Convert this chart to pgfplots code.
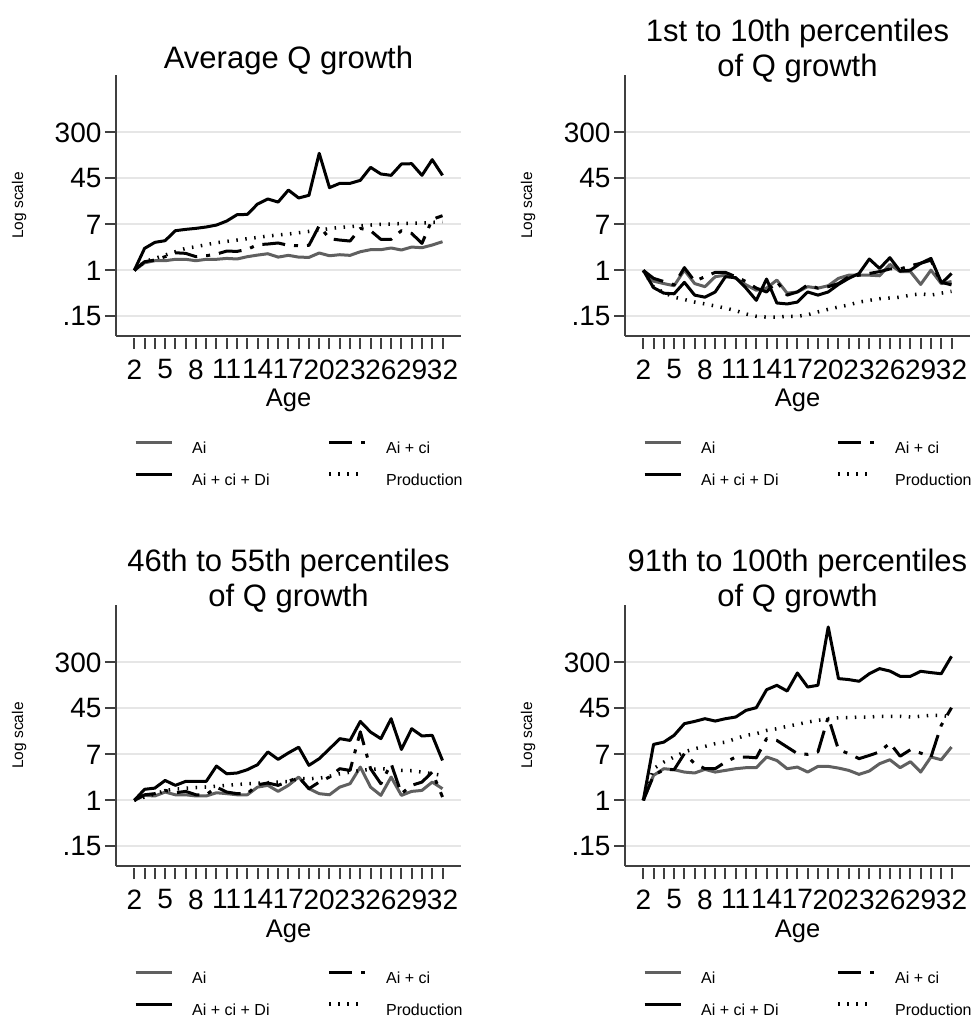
\documentclass[border=0pt]{standalone}
\usepackage{pgfplots}
\pgfplotsset{compat=1.18}
\usepackage{pgfplotstable}
\usepackage{fontspec}
\setmainfont{Liberation Sans}
\definecolor{lgray}{RGB}{96,96,96}
\definecolor{gridc}{RGB}{230,230,230}
\definecolor{axc}{RGB}{64,64,64}

\pgfplotstableread{
x ai aic aicd prod
2 1 1 1 1
3 1.37 1.43 2.48 1.43
4 1.49 1.53 3.18 1.64
5 1.49 1.76 3.41 1.88
6 1.58 2.07 5.15 2.16
7 1.58 2.02 5.44 2.48
8 1.49 1.76 5.67 2.66
9 1.58 1.83 6.0 2.89
10 1.58 1.96 6.5 3.14
11 1.64 2.22 7.68 3.31
12 1.60 2.19 9.97 3.5
13 1.76 2.38 10.1 3.7
14 1.88 2.89 15.5 3.9
15 1.99 2.97 19.1 4.14
16 1.73 3.10 16.8 4.31
17 1.86 2.81 27.6 4.49
18 1.73 2.77 19.9 4.74
19 1.71 2.81 22.2 5.0
20 2.05 6.33 126 5.3
21 1.83 3.7 30.5 5.6
22 1.91 3.5 36.4 5.9
23 1.86 3.36 36.4 6.08
24 2.16 5.67 41.2 6.33
25 2.35 5.15 70.5 6.5
26 2.35 3.6 53.6 6.7
27 2.52 3.6 50.7 6.8
28 2.32 5.15 81 6.9
29 2.62 4.6 82 6.97
30 2.55 3.05 50.7 7.07
31 2.85 8.23 96.8 7.26
32 3.27 9.57 50.7 7.46
}\tA

\pgfplotstableread{
x ai aic aicd prod
2 1 1 1 1
3 0.64 0.72 0.49 0.5
4 0.58 0.63 0.39 0.4
5 0.53 0.55 0.38 0.33
6 1.01 1.12 0.61 0.3
7 0.58 0.64 0.36 0.27
8 0.51 0.77 0.33 0.25
9 0.77 0.92 0.41 0.23
10 0.82 0.92 0.77 0.21
11 0.72 0.77 0.74 0.19
12 0.55 0.63 0.48 0.165
13 0.44 0.48 0.29 0.15
14 0.48 0.41 0.70 0.145
15 0.67 0.63 0.26 0.145
16 0.39 0.36 0.25 0.15
17 0.41 0.41 0.27 0.15
18 0.51 0.55 0.41 0.16
19 0.48 0.48 0.36 0.18
20 0.53 0.51 0.41 0.2
21 0.72 0.58 0.56 0.22
22 0.82 0.77 0.72 0.24
23 0.82 0.82 0.88 0.27
24 0.82 0.88 1.6 0.29
25 0.8 0.95 1.08 0.31
26 1.28 1.06 1.69 0.32
27 0.95 1.06 0.97 0.33
28 0.95 1.21 1.01 0.36
29 0.56 1.34 1.34 0.38
30 1.01 1.53 1.64 0.36
31 0.58 0.58 0.61 0.39
32 0.63 0.88 0.55 0.42
}\tB

\pgfplotstableread{
x ai aic aicd prod
2 1 1 1 1
3 1.23 1.26 1.58 1.15
4 1.2 1.32 1.66 1.3
5 1.41 1.51 2.28 1.5
6 1.26 1.37 1.86 1.6
7 1.26 1.45 2.19 1.65
8 1.2 1.26 2.19 1.7
9 1.2 1.26 2.19 1.74
10 1.37 1.73 4.13 1.8
11 1.32 1.41 3.0 1.86
12 1.26 1.32 3.1 1.92
13 1.26 1.32 3.55 1.99
14 1.73 1.91 4.37 2.03
15 1.86 2.05 7.4 2.07
16 1.45 1.86 5.44 2.13
17 1.86 2.19 7.1 2.19
18 2.62 2.62 9.0 2.45
19 1.62 1.62 4.25 2.45
20 1.32 2.13 5.6 2.5
21 1.26 2.62 8.4 2.7
22 1.73 3.7 12.8 3.0
23 1.99 3.45 11.9 3.2
24 3.96 17 26.1 3.45
25 1.73 3.7 16.8 3.6
26 1.23 1.99 12.8 3.7
27 2.62 4.55 29.2 3.6
28 1.23 1.32 8.2 3.45
29 1.45 1.86 19.3 3.4
30 1.51 2.13 14.3 3.22
31 2.13 3.22 14.7 3.0
32 1.62 1.15 5.2 2.8
}\tC

\pgfplotstableread{
x ai aic aicd prod
2 1 1 1 1
3 2.81 2.8 10.1 3.7
4 3.7 3.55 11.1 4.87
5 3.55 3.55 14.7 6.0
6 3.22 6.9 23.8 7.4
7 3.1 4.55 26.1 8.45
8 3.6 3.7 29.2 9.3
9 3.22 3.7 26.5 10.4
10 3.45 4.87 29.2 11.1
11 3.7 6.0 31.3 12.8
12 3.86 6.0 41.2 14.7
13 3.86 5.8 46 15.7
14 6.0 12.8 96.7 18.0
15 5.2 11.9 116 19.3
16 3.7 9.06 91.5 21.3
17 3.96 6.9 193 23.1
18 3.22 6.7 108 25.4
19 4.07 7.4 116 27.3
20 4.07 31.3 1290 29.2
21 3.8 8.1 153 30.4
22 3.45 6.9 147 30.4
23 2.93 5.6 137 31.3
24 3.36 6.4 187 31.3
25 4.55 7.4 231 32.2
26 5.36 10.7 209 32.2
27 3.86 6.2 168 32.2
28 4.94 8.1 168 31.3
29 3.22 7.06 207 32.2
30 6.0 6.0 196 33.6
31 5.36 22.2 187 33.6
32 9.06 46 384 31.3
}\tD

\pgfplotsset{
  qstyle/.style={
    scale only axis, width=345pt, height=261pt,
    xmin=0.22, xmax=33.8,
    ymin=0.0665, ymax=3200,
    axis x line*=bottom, axis y line*=left,
    axis line style={draw=axc, line width=2pt, -},
    ytick={0.14957,1,6.6859,44.701,298.87},
    yticklabels={.15,1,7,45,300},
    yminorticks=false,
    ymajorgrids, major grid style={draw=gridc, line width=2pt},
    xtick={2,5,...,32}, minor xtick={2,...,32},
    tick align=outside,
    major tick length=11pt, minor tick length=11pt,
    every tick/.style={draw=axc, line width=2pt},
    every minor tick/.style={draw=axc, line width=2pt},
    xtick style={yshift=-2pt},
    /pgf/number format/assume math mode=true,
    ticklabel style={font=\fontsize{28}{28}\selectfont},
    xticklabel style={yshift=-9pt},
    ylabel={Log scale},
    every axis y label/.style={at={(axis description cs:0,0.5)}, xshift=-97pt, rotate=90, anchor=center, font=\fontsize{15.5}{15.5}\selectfont},
    xlabel={Age},
    every axis x label/.style={at={(axis description cs:0.5,0)}, anchor=base, yshift=-71pt, font=\fontsize{25.5}{25.5}\selectfont},
    title style={at={(axis description cs:0.5,1)}, anchor=base, font=\fontsize{31}{35}\selectfont, align=center},
    legend style={at={(axis description cs:0.0436,-0.393)}, anchor=north west, draw=none, fill=none,
      font=\fontsize{16}{16}\selectfont, legend columns=2,
      nodes={inner sep=0pt, text height=12pt, text depth=0pt},
      row sep=19pt,
      /tikz/every odd column/.append style={column sep=19pt},
      /tikz/every even column/.append style={column sep=58pt}},
    legend cell align=left,
    legend image code/.code={\draw[##1] (0pt,5pt) -- (36pt,5pt);},
  },
}
\tikzset{
  sAi/.style={draw=lgray, line width=3pt, line join=round},
  sAic/.style={draw=black, line width=3pt, line join=round, dash pattern=on 23pt off 9pt on 4pt off 9pt},
  sAicd/.style={draw=black, line width=3pt, line join=round},
  sProd/.style={draw=black, line width=3.5pt, dash pattern=on 1.5pt off 7.5pt},
}

\begin{document}
\begin{tikzpicture}
\path[use as bounding box] (0pt,0pt) rectangle (977pt,1018pt);

\begin{semilogyaxis}[qstyle, at={(116pt,682pt)}, anchor=south west, title={Average Q growth}, title style={yshift=0pt}]
\addplot[sAi] table[x=x,y=ai]{\tA}; \addlegendentry{Ai}
\addplot[sAic] table[x=x,y=aic]{\tA}; \addlegendentry{Ai + ci}
\addplot[sAicd] table[x=x,y=aicd]{\tA}; \addlegendentry{Ai + ci + Di}
\addplot[sProd] table[x=x,y=prod]{\tA}; \addlegendentry{Production}
\end{semilogyaxis}

\begin{semilogyaxis}[qstyle, at={(625pt,682pt)}, anchor=south west, title={1st to 10th percentiles\\of Q growth}, title style={yshift=-7.5pt}]
\addplot[sAi] table[x=x,y=ai]{\tB}; \addlegendentry{Ai}
\addplot[sAic] table[x=x,y=aic]{\tB}; \addlegendentry{Ai + ci}
\addplot[sAicd] table[x=x,y=aicd]{\tB}; \addlegendentry{Ai + ci + Di}
\addplot[sProd] table[x=x,y=prod]{\tB}; \addlegendentry{Production}
\end{semilogyaxis}

\begin{semilogyaxis}[qstyle, at={(116pt,152pt)}, anchor=south west, title={46th to 55th percentiles\\of Q growth}, title style={yshift=-7.5pt}]
\addplot[sAi] table[x=x,y=ai]{\tC}; \addlegendentry{Ai}
\addplot[sAic] table[x=x,y=aic]{\tC}; \addlegendentry{Ai + ci}
\addplot[sAicd] table[x=x,y=aicd]{\tC}; \addlegendentry{Ai + ci + Di}
\addplot[sProd] table[x=x,y=prod]{\tC}; \addlegendentry{Production}
\end{semilogyaxis}

\begin{semilogyaxis}[qstyle, at={(625pt,152pt)}, anchor=south west, title={91th to 100th percentiles\\of Q growth}, title style={yshift=-7.5pt}]
\addplot[sAi] table[x=x,y=ai]{\tD}; \addlegendentry{Ai}
\addplot[sAic] table[x=x,y=aic]{\tD}; \addlegendentry{Ai + ci}
\addplot[sAicd] table[x=x,y=aicd]{\tD}; \addlegendentry{Ai + ci + Di}
\addplot[sProd] table[x=x,y=prod]{\tD}; \addlegendentry{Production}
\end{semilogyaxis}
\end{tikzpicture}
\end{document}
